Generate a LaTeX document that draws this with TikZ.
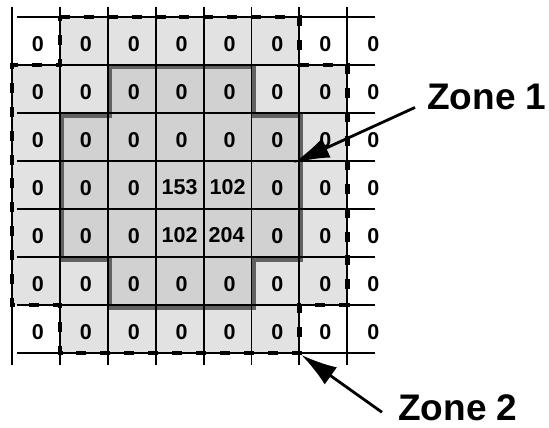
\documentclass[tikz,border=0pt]{standalone}
\usepackage{fontspec}
\setmainfont{Liberation Sans}
\usetikzlibrary{arrows.meta}
\definecolor{zonetwofill}{gray}{0.885}
\definecolor{zoneonefill}{gray}{0.82}
\definecolor{zoneoneline}{gray}{0.38}
\begin{document}
\begin{tikzpicture}[x=1pt,y=-1pt,
  cellnum/.style={font=\fontsize{21.5}{25}\selectfont\bfseries, inner sep=0pt, anchor=center},
  zonelabel/.style={font=\fontsize{37}{44}\selectfont\bfseries, inner sep=0pt, anchor=base west},
  gridline/.style={line width=1.9pt, draw=black},
  zoneoneedge/.style={draw=zoneoneline, line width=5pt, line join=miter},
  zonetwoedge/.style={draw=black, line width=4.6pt, dash pattern=on 10pt off 13.9pt, line join=miter},
  pointer/.style={line width=2.8pt, -{Latex[length=36pt,width=21pt]}}
]
\useasboundingbox (0,0) rectangle (549,428);

% grid of 8 columns x 7 rows, one unit = one cell
\begin{scope}[shift={(12,17)}, x=47.9pt, y=-48pt]
  % zone 2 (outer region)
  \fill[zonetwofill] (1,0) -- (6,0) -- (6,1) -- (7,1) -- (7,6) -- (6,6) -- (6,7)
     -- (1,7) -- (1,6) -- (0,6) -- (0,1) -- (1,1) -- cycle;
  % zone 1 (inner region)
  \fill[zoneonefill] (2,1) -- (5,1) -- (5,2) -- (6,2) -- (6,5) -- (5,5) -- (5,6)
     -- (2,6) -- (2,5) -- (1,5) -- (1,2) -- (2,2) -- cycle;
  \draw[zoneoneedge, shift={(1.5pt,-2pt)}] (2,1) -- (5,1) -- (5,2) -- (6,2) -- (6,5) -- (5,5) -- (5,6)
     -- (2,6) -- (2,5) -- (1,5) -- (1,2) -- (2,2) -- cycle;
  % grid lines
  \foreach \j in {0,...,7}
    \draw[gridline] (0.104,\j) -- (7.578,\j);
  \foreach \i in {0,...,7}
    \draw[gridline] (\i,-0.208) -- (\i,7.25);
  % zone 2 border
  \draw[zonetwoedge] (1,0) -- (6,0) -- (6,1) -- (7,1) -- (7,6) -- (6,6) -- (6,7)
     -- (1,7) -- (1,6) -- (0,6) -- (0,1) -- (1,1) -- cycle;
  % cell values
  \foreach \i in {0,...,7}
    \foreach \j in {0,...,6}{
      \ifnum\j=3 \ifnum\i=3 \else\ifnum\i=4 \else
        \node[cellnum] (c\i\j) at ([shift={(2pt,-3pt)}]\i+0.5,\j+0.5) {0};\fi\fi
      \else\ifnum\j=4 \ifnum\i=3 \else\ifnum\i=4 \else
        \node[cellnum] (c\i\j) at ([shift={(2pt,-3pt)}]\i+0.5,\j+0.5) {0};\fi\fi
      \else
        \node[cellnum] (c\i\j) at ([shift={(2pt,-3pt)}]\i+0.5,\j+0.5) {0};
      \fi\fi
    }
  \node[cellnum] (c33) at ([shift={(0pt,-2pt)}]3.5,3.5) {153};
  \node[cellnum] (c43) at ([shift={(0pt,-2pt)}]4.5,3.5) {102};
  \node[cellnum] (c34) at ([shift={(0pt,-2pt)}]3.5,4.5) {102};
  \node[cellnum] (c44) at ([shift={(-1pt,-2pt)}]4.5,4.5) {204};
  \coordinate (tipone) at ([shift={(-6pt,-2pt)}]6,3);
  \coordinate (tiptwo) at ([shift={(2pt,-2pt)}]6,7);
\end{scope}

% zone labels and pointers
\node[zonelabel] (zone1) at (427,110) {Zone 1};
\node[zonelabel] (zone2) at (398,420) {Zone 2};
\draw[pointer] ([xshift=-12pt,yshift=-10pt]zone1.west) -- (tipone);
\draw[pointer] ([xshift=-16pt,yshift=-5pt]zone2.west) -- (tiptwo);
\end{tikzpicture}
\end{document}
